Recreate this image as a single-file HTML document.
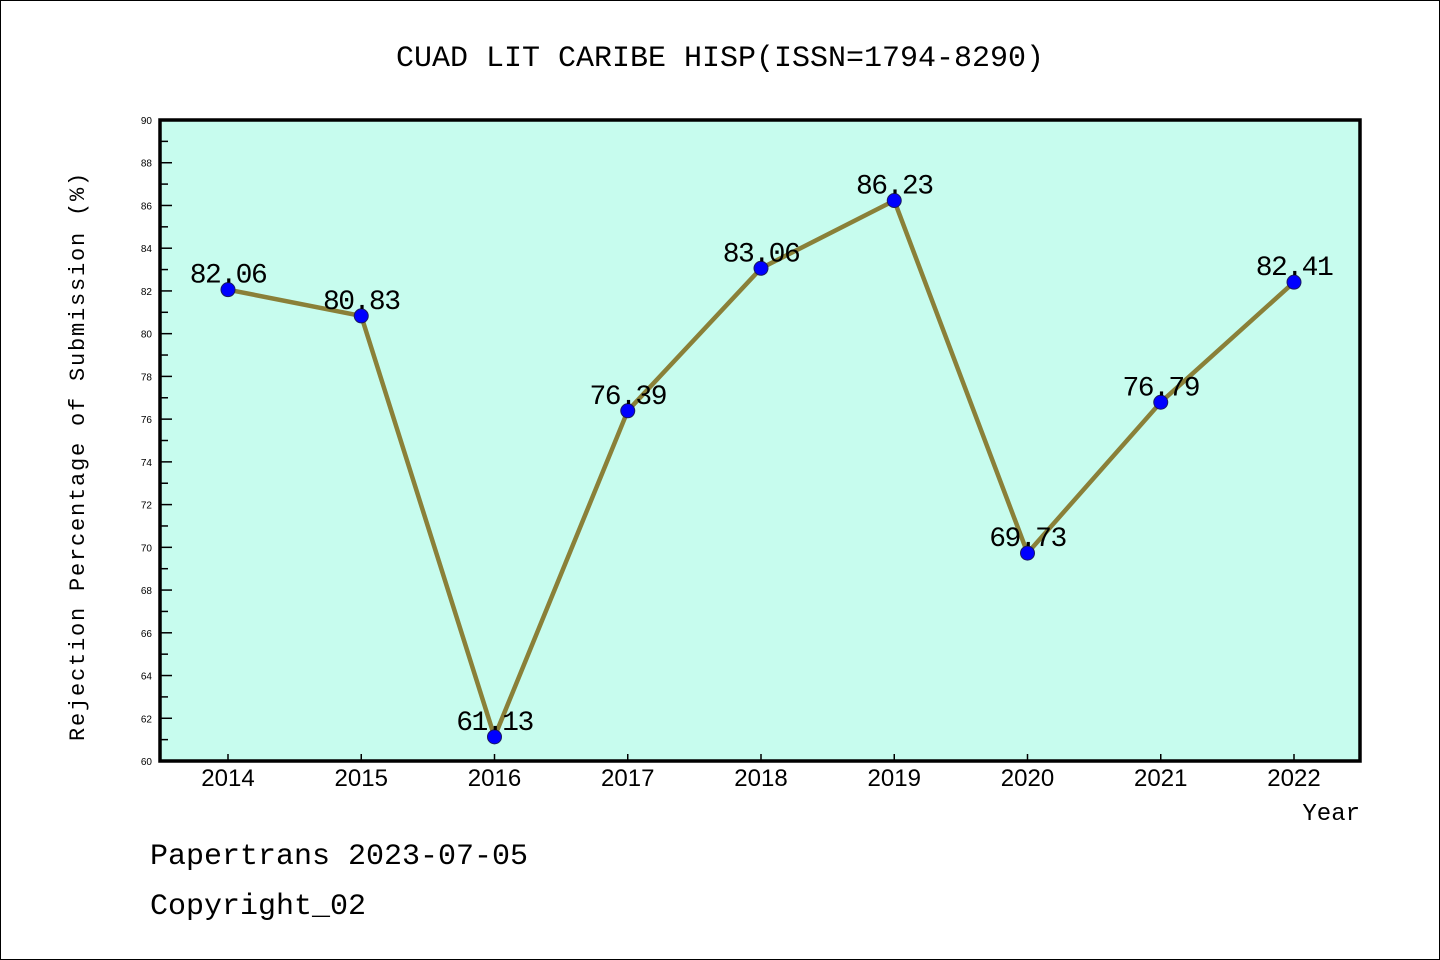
<!DOCTYPE html>
<html><head><meta charset="utf-8"><style>
body{margin:0;background:#fff}
svg{display:block;font-family:"Liberation Mono","DejaVu Sans Mono",monospace}
</style></head><body>
<svg width="1440" height="960">
<rect x="0.5" y="0.5" width="1439" height="959" fill="#fff" stroke="#000"/>
<text x="720" y="66" text-anchor="middle" font-size="30">CUAD LIT CARIBE HISP(ISSN=1794-8290)</text>
<rect x="160" y="120" width="1200" height="641" fill="#c7fcee"/>
<g id="ticks"></g>
<g id="series"></g>
<rect x="160" y="120" width="1200" height="641" fill="none" stroke="#000" stroke-width="3.5"/>
<text x="84" y="456" transform="rotate(-90 84 456)" text-anchor="middle" font-size="22" letter-spacing="1.8">Rejection Percentage of Submission (%)</text>
<text x="1360" y="820" text-anchor="end" font-size="24">Year</text>
<text x="150" y="864" font-size="30">Papertrans 2023-07-05</text>
<text x="150" y="914" font-size="30">Copyright_02</text>
</svg>
<script>
const years=["2014","2015","2016","2017","2018","2019","2020","2021","2022"];
const values=[82.06,80.83,61.13,76.39,83.06,86.23,69.73,76.79,82.41];
const yTicks=[60,62,64,66,68,70,72,74,76,78,80,82,84,86,88,90];
const NS="http://www.w3.org/2000/svg";
const x=i=>228+i*133.25;
const y=v=>761-(v-60)*(641/30);
function mk(t,a,p){const e=document.createElementNS(NS,t);for(const k in a)e.setAttribute(k,a[k]);p.appendChild(e);return e;}
const tk=document.getElementById('ticks'),se=document.getElementById('series');
for(let v=60;v<=90;v++){
  const l=mk('line',{x1:160,x2:160+(v%2?8:12),y1:y(v),y2:y(v),stroke:'#000','stroke-width':1.5},tk);
  
  
}
yTicks.forEach(v=>{
  const t=mk('text',{x:152,y:y(v)+4,'text-anchor':'end','font-size':10,'font-family':'Liberation Sans, sans-serif'},tk);
  t.textContent=v;
  
  
});
years.forEach((yr,i)=>{
  const l=mk('line',{x1:x(i),x2:x(i),y1:761,y2:754,stroke:'#000','stroke-width':1.5},tk);
  
  
  const t=mk('text',{x:x(i),y:786,'text-anchor':'middle','font-size':24,'font-family':'Liberation Sans, sans-serif'},tk);
  t.textContent=yr;
  
  
});
const pl=mk('polyline',{points:values.map((v,i)=>x(i)+','+y(v)).join(' '),fill:'none',stroke:'#8a8038','stroke-width':4.5},se);


values.forEach((v,i)=>{
  const c=mk('circle',{cx:x(i),cy:y(v),r:7,fill:'#0000ff',stroke:'#1a1a60','stroke-width':1},se);
  
  
  const t=mk('text',{x:x(i),y:y(v)-7,'text-anchor':'middle','font-size':28,'letter-spacing':'-1.5'},se);
  t.textContent=v.toFixed(2);
  
  
});
</script>
</body></html>
